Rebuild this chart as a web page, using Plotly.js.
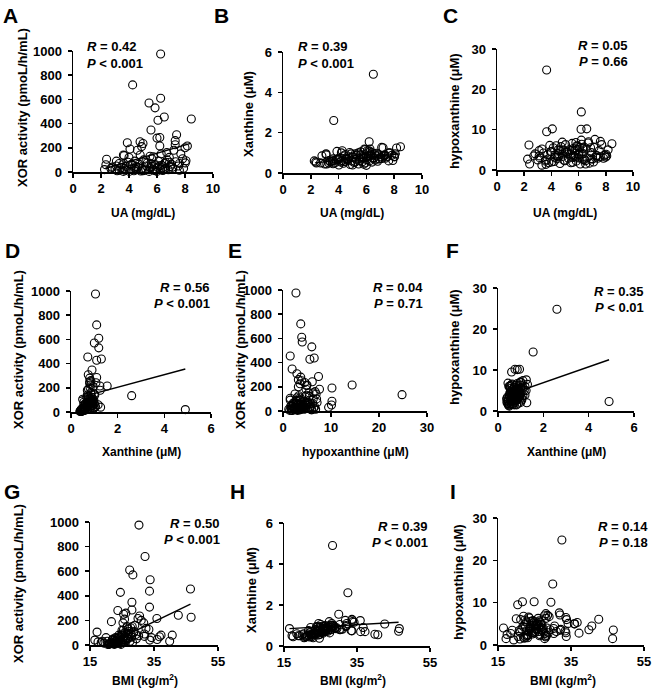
<!DOCTYPE html>
<html><head><meta charset="utf-8">
<script src="https://cdn.plot.ly/plotly-3.0.1.min.js"></script>
<style>html,body{margin:0;padding:0;background:#fff}#chart{width:668px;height:691px}</style>
</head><body><div id="chart"></div>
<script>
// Per-subject values (same subjects in every panel)
const ua = [6.26,4.26,6.26,5.43,5.86,6.52,8.45,6.07,5.57,7.40,
  6.20,6.00,7.30,4.79,3.88,6.20,3.65,6.50,8.17,7.30,
  5.00,4.07,3.65,6.60,6.18,2.40,7.70,3.60,5.74,6.88,
  8.07,4.60,4.90,6.70,7.20,8.00,5.20,4.40,5.60,6.90,
  4.50,7.10,5.90,3.10,7.60,2.35,2.25,2.80,3.00,3.30,
  2.70,7.90,3.15,3.42,3.55,3.72,3.81,3.93,4.02,4.14,
  4.23,4.35,4.41,4.52,4.63,4.71,4.84,4.92,5.04,5.12,
  5.25,5.31,5.44,5.52,5.63,5.71,5.83,5.91,6.03,6.12,
  6.22,6.33,6.41,6.54,6.62,6.73,6.81,6.94,7.02,7.13,
  7.34,7.52,7.83,8.02,3.30,3.60,4.00,4.50,5.00,5.50,
  5.80,6.00,6.30,5.20,4.80,5.60,6.40,3.10,4.20,7.60];
const xor = [975,720,610,570,530,455,438,428,347,308,
  285,280,259,250,242,215,135,20,215,225,
  236,190,30,80,50,105,150,140,126,121,
  93,180,210,160,180,200,80,30,67,80,
  45,40,60,90,70,60,20,40,25,15,
  30,30,10,35,60,15,45,80,5,25,
  55,10,90,20,40,65,8,30,100,15,
  50,75,5,35,110,20,60,10,40,90,
  25,55,12,70,30,100,18,45,65,25,
  85,50,110,75,70,5,120,35,10,130,
  15,5,150,25,140,45,35,50,65,15];
const xan = [1.05,1.10,1.19,1.00,1.19,0.72,1.30,1.10,0.90,0.74,
  1.10,0.80,0.85,0.80,1.07,1.55,2.60,4.90,1.24,0.85,
  0.80,0.75,0.60,0.95,0.85,0.50,1.00,0.70,0.75,0.90,
  0.95,0.70,0.95,0.85,1.25,0.82,0.55,0.57,0.90,0.70,
  0.70,1.27,1.16,0.95,1.00,0.55,0.60,0.85,0.45,0.50,
  0.50,0.62,0.45,0.55,0.60,0.50,0.65,0.70,0.40,0.55,
  0.62,0.48,0.85,0.58,0.66,0.72,0.42,0.60,0.78,0.52,
  0.68,0.88,0.45,0.62,0.80,0.56,0.74,0.50,0.66,0.82,
  0.60,0.92,0.54,0.76,0.64,0.98,0.58,0.70,0.80,0.72,
  0.90,0.82,0.88,0.80,0.62,0.46,0.68,0.92,0.40,0.72,
  0.44,0.38,0.86,0.95,1.02,1.05,1.00,0.90,1.00,0.60];
const hx = [2.7,3.7,3.9,4.0,6.0,1.5,6.5,5.6,1.9,2.9,
  7.4,3.7,3.2,3.9,6.1,14.4,24.8,2.3,5.0,3.55,
  4.5,10.2,9.5,10.2,10.1,1.5,6.3,2.5,3.3,5.5,
  3.5,4.8,4.9,6.7,7.6,3.2,4.5,3.6,5.3,2.8,
  5.0,2.0,5.1,3.5,7.1,6.2,2.7,4.0,2.5,1.2,
  3.5,3.7,3.0,4.2,2.2,3.8,1.8,4.5,2.0,5.5,
  3.2,6.0,2.8,4.0,1.6,5.8,3.4,2.4,6.3,4.4,
  2.9,5.0,1.8,6.6,3.6,4.7,2.2,5.9,3.9,1.5,
  6.4,4.1,2.6,5.2,3.0,7.0,1.7,4.3,2.7,5.6,
  3.6,4.8,2.9,3.9,5.2,1.4,4.6,3.3,2.3,4.9,
  6.8,3.0,5.4,4.0,6.9,3.1,5.7,4.8,2.1,3.3];
const bmi = [30.3,32.2,27.4,28.4,33.8,46.4,33.6,24.5,28.1,33.6,
  28.1,23.7,26.2,25.5,42.6,30.0,32.5,28.3,35.9,46.6,
  30.5,21.7,20.4,24.9,29.5,17.2,28.2,26.5,33.4,25.0,
  27.0,25.3,25.8,29.0,31.8,31.0,40.7,39.9,36.7,37.2,
  36.0,33.7,34.2,32.0,32.0,20.0,18.5,16.5,17.5,19.3,
  18.9,25.6,21.0,22.5,23.0,21.5,22.0,24.0,20.5,22.8,
  23.5,21.2,25.0,23.8,22.2,24.6,20.8,23.2,26.0,21.8,
  24.2,25.6,22.6,23.4,27.2,24.8,26.4,22.4,25.2,27.8,
  23.6,26.8,24.4,25.9,27.5,28.6,23.1,26.1,27.9,24.0,
  29.3,26.7,28.8,30.2,24.3,21.0,25.4,24.1,23.0,27.0,
  22.0,24.7,26.6,23.9,27.7,25.1,26.3,22.3,28.0,22.7];

// Regression lines (endpoints)
const fitA_x = [2.3, 8.4],  fitA_y = [29, 236];
const fitB_x = [2.3, 8.4],  fitB_y = [0.50, 0.95];
const fitD_x = [0.35, 4.9], fitD_y = [119, 355];
const fitF_x = [0.35, 4.9], fitF_y = [3.7, 12.5];
const fitG_x = [20, 46.4],  fitG_y = [0, 333];
const fitH_x = [16.5, 46.4], fitH_y = [0.85, 1.16];

const letters = ['A','B','C','D','E','F','G','H','I'];
const statR = ['0.42','0.39','0.05','0.56','0.04','0.35','0.50','0.39','0.14'];
const statP = ['< 0.001','< 0.001','= 0.66','< 0.001','= 0.71','< 0.01','< 0.001','< 0.001','= 0.18'];
const xTitles = ['UA (mg/dL)','UA (mg/dL)','UA (mg/dL)','Xanthine (μM)','hypoxanthine (μM)','Xanthine (μM)','BMI (kg/m<sup>2</sup>)','BMI (kg/m<sup>2</sup>)','BMI (kg/m<sup>2</sup>)'];
const yTitles = ['XOR activity (pmoL/h/mL)','Xanthine (μM)','hypoxanthine (μM)','XOR activity (pmoL/h/mL)','XOR activity (pmoL/h/mL)','hypoxanthine (μM)','XOR activity (pmoL/h/mL)','Xanthine (μM)','hypoxanthine (μM)'];

const W = 668, H = 691;
const fx = v => v / W, fy = v => 1 - v / H;
const FONT = 'Arial, "Liberation Sans", sans-serif';

// layout geometry in pixels: [x0, x1, yTop, yBottom]
const panels = [
  {x: ua,  y: xor, dom: [73,213,51,172],  xr:[0,10],  yr:[0,1000], dx:2,  dy:200, fit:[fitA_x,fitA_y], stat:[85,47,'left'],   letter:[10,15],  ytl:[22,108],  xtl:[143,213]},
  {x: ua,  y: xan, dom: [283,422,52,173], xr:[0,10],  yr:[0,6],    dx:2,  dy:2,   fit:[fitB_x,fitB_y], stat:[296,47,'left'],  letter:[221,15], ytl:[249,114], xtl:[352,213]},
  {x: ua,  y: hx,  dom: [497,633,49,170], xr:[0,10],  yr:[0,30],   dx:2,  dy:10,  fit:null,            stat:[630,45,'right'], letter:[450,15], ytl:[454,111], xtl:[565,213]},
  {x: xan, y: xor, dom: [71,211,291,412], xr:[0,6],   yr:[0,1000], dx:2,  dy:200, fit:[fitD_x,fitD_y], stat:[212,287,'right'], letter:[12,250], ytl:[18,350],  xtl:[141,452]},
  {x: hx,  y: xor, dom: [283,427,290,411],xr:[0,30],  yr:[0,1000], dx:10, dy:200, fit:null,            stat:[425,287,'right'], letter:[235,250],ytl:[240,350], xtl:[355,452]},
  {x: xan, y: hx,  dom: [498,634,288,411],xr:[0,6],   yr:[0,30],   dx:2,  dy:10,  fit:[fitF_x,fitF_y], stat:[646,291,'right'], letter:[452,250],ytl:[455,347], xtl:[566,452]},
  {x: bmi, y: xor, dom: [90,218,522,645], xr:[15,55], yr:[0,1000], dx:20, dy:200, fit:[fitG_x,fitG_y], stat:[222,523,'right'], letter:[12,491], ytl:[18,584],  xtl:[145,680]},
  {x: bmi, y: xan, dom: [284,430,523,646],xr:[15,55], yr:[0,6],    dx:20, dy:2,   fit:[fitH_x,fitH_y], stat:[430,526,'right'], letter:[238,491],ytl:[251,590], xtl:[353,680]},
  {x: bmi, y: hx,  dom: [498,644,518,645],xr:[15,55], yr:[0,30],   dx:20, dy:10,  fit:null,            stat:[650,526,'right'], letter:[453,491],ytl:[458,582], xtl:[563,680]}
];

const traces = [];
const layout = {
  width: W, height: H, margin: {l:0,r:0,t:0,b:0},
  paper_bgcolor: '#fff', plot_bgcolor: '#fff',
  showlegend: false, font: {family: FONT, color: '#000'},
  annotations: []
};
const bold = {family: FONT, size: 13, color: '#000', weight: 'bold'};

panels.forEach((p, i) => {
  const n = i + 1;
  const xa = n === 1 ? 'x' : 'x' + n, ya = n === 1 ? 'y' : 'y' + n;
  traces.push({
    type: 'scatter', mode: 'markers', x: p.x, y: p.y, xaxis: xa, yaxis: ya,
    cliponaxis: false,
    marker: {symbol: 'circle-open', size: 8, color: '#000', line: {width: 1.1, color: '#000'}},
    hoverinfo: 'skip'
  });
  if (p.fit) {
    traces.push({type: 'scatter', mode: 'lines', x: p.fit[0], y: p.fit[1], xaxis: xa, yaxis: ya,
      line: {color: '#000', width: 1.4}, hoverinfo: 'skip'});
  }
  const axCommon = {showgrid: false, zeroline: false, showline: true, linecolor: '#000', linewidth: 1.5,
    ticks: 'outside', ticklen: 4, tickwidth: 1.5, tickcolor: '#000', tickfont: bold, fixedrange: true};
  layout['xaxis' + (n === 1 ? '' : n)] = Object.assign({}, axCommon, {
    domain: [fx(p.dom[0]), fx(p.dom[1])], anchor: ya, range: p.xr, tick0: p.xr[0], dtick: p.dx});
  layout['yaxis' + (n === 1 ? '' : n)] = Object.assign({}, axCommon, {
    domain: [fy(p.dom[3]), fy(p.dom[2])], anchor: xa, range: p.yr, tick0: 0, dtick: p.dy,
    ticklabelstandoff: 3});

  // stats
  layout.annotations.push({xref:'paper', yref:'paper', x: fx(p.stat[0]), y: fy(p.stat[1]), xanchor: p.stat[2], yanchor:'middle',
    text: '<i>R</i> = ' + statR[i], showarrow:false, font: bold});
  layout.annotations.push({xref:'paper', yref:'paper', x: fx(p.stat[0]), y: fy(p.stat[1] + 16), xanchor: p.stat[2], yanchor:'middle',
    text: '<i>P</i> ' + statP[i], showarrow:false, font: bold});
  // panel letter
  layout.annotations.push({xref:'paper', yref:'paper', x: fx(p.letter[0]), y: fy(p.letter[1]), xanchor:'center', yanchor:'middle',
    text: letters[i], showarrow:false, font: {family: FONT, size: 21, color:'#000', weight:'bold'}});
  // axis titles
  layout.annotations.push({xref:'paper', yref:'paper', x: fx(p.ytl[0]), y: fy(p.ytl[1]), xanchor:'center', yanchor:'middle',
    text: yTitles[i], textangle: -90, showarrow:false, font: {family: FONT, size: 13, color:'#000', weight:'bold'}});
  layout.annotations.push({xref:'paper', yref:'paper', x: fx(p.xtl[0]), y: fy(p.xtl[1]), xanchor:'center', yanchor:'middle',
    text: xTitles[i], showarrow:false, font: {family: FONT, size: 12, color:'#000', weight:'bold'}});
});

Plotly.newPlot('chart', traces, layout, {staticPlot: true, displayModeBar: false});
</script>
</body></html>
